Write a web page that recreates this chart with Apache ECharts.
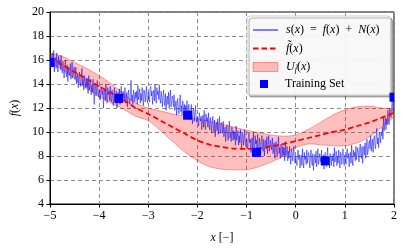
<!DOCTYPE html>
<html>
<head>
<meta charset="utf-8">
<script src="https://cdn.jsdelivr.net/npm/echarts@6/dist/echarts.min.js"></script>
<style>
html,body{margin:0;padding:0;background:#fff;}
#chart{width:415px;height:249px;}
</style>
</head>
<body>
<div id="chart"></div>
<script>
// ---- data ----
const signalStart = -5;
const signalStep = 0.0125;
const signal = [
16.2,15.7,15.4,16.4,16.6,15.8,16.8,15.0,15.9,16.2,15.3,16.6,15.5,15.0,16.3,15.6,15.9,15.2,16.4,15.3,
14.9,15.9,15.4,14.5,15.5,16.0,15.0,14.6,15.6,14.2,15.3,15.4,14.7,15.7,14.4,15.0,15.8,14.5,14.8,15.4,
15.1,14.4,15.4,14.0,14.4,14.9,13.7,14.6,15.0,14.1,13.8,14.6,15.3,13.9,14.4,13.5,14.7,14.4,13.7,14.5,
13.7,14.3,13.2,14.7,13.5,13.9,14.4,13.1,13.9,13.3,14.4,13.5,12.3,14.1,13.9,13.0,13.6,14.3,13.2,12.9,
13.5,13.0,12.7,13.8,13.9,13.1,13.5,12.0,13.3,13.6,12.6,14.0,12.9,12.4,13.7,13.1,13.4,12.6,13.8,12.7,
12.5,13.5,13.0,12.2,13.2,13.7,12.7,12.4,13.4,12.0,13.1,13.3,12.6,13.6,12.3,13.0,13.8,12.5,12.8,13.4,
13.4,12.7,13.7,12.4,12.8,13.3,12.1,13.1,13.5,12.6,12.3,13.3,14.3,12.6,13.1,12.3,13.5,13.2,12.5,13.3,
12.8,13.4,12.3,13.9,12.7,13.1,13.6,12.4,13.2,12.6,13.7,12.9,12.2,13.5,13.3,12.5,13.1,13.8,12.7,12.4,
13.3,12.8,12.5,13.6,13.8,13.0,13.4,12.3,13.2,13.5,12.6,14.0,12.9,12.4,13.7,13.1,13.4,12.7,13.9,12.8,
12.4,13.4,12.9,12.1,13.0,13.5,12.5,12.2,13.2,11.8,12.8,13.0,12.3,13.3,12.0,12.7,13.5,12.1,12.4,13.0,
12.8,12.1,13.1,11.8,12.1,12.6,11.4,12.4,12.8,11.9,11.5,12.4,13.1,11.7,12.2,11.4,12.6,12.2,11.5,12.3,
11.6,12.2,11.1,12.6,11.4,11.8,12.3,11.0,11.8,11.2,12.3,11.4,10.7,12.0,11.8,10.9,11.5,12.2,11.1,10.8,
11.3,10.8,10.5,11.6,11.7,10.9,11.3,10.2,11.1,11.4,10.4,11.8,10.7,10.2,11.5,10.9,11.2,10.4,11.6,10.5,
10.2,11.2,10.7,9.9,10.8,11.3,10.3,10.0,11.0,9.6,10.6,10.8,10.1,11.1,9.8,10.5,11.3,9.9,10.2,10.8,
10.6,9.9,10.9,9.6,9.9,10.4,9.2,10.2,10.6,9.7,9.3,10.2,10.9,9.5,10.0,9.2,10.4,10.0,9.3,10.1,
9.4,10.0,8.9,10.5,9.3,9.6,10.1,8.9,9.7,9.1,10.2,9.4,8.6,9.9,9.7,8.9,9.5,10.2,9.1,8.8,
9.4,8.9,8.6,9.7,9.9,9.1,9.4,8.3,9.2,9.5,8.6,10.0,8.9,8.4,9.7,9.0,9.3,8.6,9.8,8.7,
8.5,9.5,9.0,8.2,9.2,9.7,8.7,8.4,9.4,8.0,9.1,9.3,8.6,9.6,8.2,8.9,9.7,8.4,8.7,9.3,
9.2,8.5,9.5,8.2,8.6,9.1,7.8,8.8,9.2,8.3,8.0,8.9,9.6,8.2,8.7,7.8,9.0,8.7,8.0,8.8,
8.1,8.7,7.6,9.2,7.9,8.3,8.8,7.6,8.4,7.8,8.8,8.0,7.3,8.6,8.4,7.6,8.2,8.8,7.7,7.4,
8.0,7.5,7.2,8.3,8.5,7.7,8.1,7.0,7.8,8.1,7.2,8.6,7.5,7.0,8.3,7.7,8.0,7.3,8.5,7.4,
7.3,8.3,7.8,7.0,8.0,8.5,7.5,7.2,8.2,6.8,7.9,8.1,7.4,8.4,7.1,7.8,8.6,7.3,7.6,8.2,
8.2,7.5,8.5,7.2,7.6,8.1,6.9,7.9,8.3,7.4,7.1,8.0,8.7,7.3,7.8,7.0,8.2,7.9,7.2,8.0,
7.6,8.2,7.1,8.7,7.5,7.9,8.4,7.2,8.0,7.4,8.5,7.7,7.0,8.3,8.1,7.3,7.9,8.6,7.5,7.2,
8.1,7.6,7.3,8.4,8.6,7.8,8.2,7.1,8.0,8.3,7.4,8.9,7.7,7.2,8.5,8.0,8.3,7.6,8.8,7.7,
7.7,8.7,8.3,7.5,8.5,9.0,8.0,7.8,8.8,7.4,8.5,8.8,8.1,9.1,7.8,8.6,9.4,8.1,8.4,9.1,
9.3,8.6,9.7,8.4,8.9,9.4,8.3,9.3,9.7,8.9,8.6,9.6,10.3,9.0,9.5,8.7,10.0,9.7,9.1,9.9,
9.7,10.4,9.4,11.2,10.1,10.6,11.2,10.2,11.1,10.6,11.8,11.1,10.6,12.0,11.9,11.2,11.9,12.8,11.8,11.6,
12.9
];
const fitX = [-5,-4.75,-4.5,-4.25,-4,-3.75,-3.5,-3.25,-3,-2.75,-2.5,-2.25,-2,-1.75,-1.5,-1.25,-1,-0.75,-0.5,-0.25,0,0.25,0.5,0.75,1,1.25,1.5,1.75,2];
const fitMean = [16.2,15.6,15.0,14.4,13.8,13.25,12.65,12.0,11.5,10.95,10.4,9.85,9.3,8.95,8.75,8.62,8.6,8.65,8.8,9.0,9.25,9.5,9.75,10.0,10.2,10.5,10.8,11.2,11.6];
const bandUpper = [16.5,16.3,15.8,15.3,14.7,14.0,13.2,12.4,12.0,11.75,11.5,11.3,11.1,10.9,10.65,10.4,10.15,9.95,9.75,9.65,9.75,10.2,10.8,11.4,11.85,12.1,12.15,12.0,11.85];
const bandLower = [15.9,15.2,14.4,13.6,13.0,12.4,11.9,11.3,10.95,10.1,9.2,8.3,7.6,7.1,6.9,6.85,6.85,7.1,7.5,8.0,8.7,9.0,8.95,8.85,8.85,9.1,9.6,10.4,11.3];
const trainX = [-5,-3.6,-2.2,-0.8,0.6,2.0];
const trainY = [15.8,12.8,11.4,8.3,7.6,12.9];

// ---- build ----
const signalData = signal.map((v,i)=>[signalStart + i*signalStep, v]);
const meanData = fitX.map((x,i)=>[x, fitMean[i]]);
const bandData = fitX.map((x,i)=>[x, bandLower[i], bandUpper[i]]);
const trainData = trainX.map((x,i)=>[x, trainY[i]]);

const FONT = 'Liberation Serif';
const SP = '\u2002';
const minus = v => String(v).replace('-', '\u2212');
const labels = {
  sx: '{i|s}({i|x})' + SP + '=' + SP + '{i|f}({i|x})' + SP + '+' + SP + '{i|N}({i|x})',
  ft: '{i|f\u0303}({i|x})',
  U: '{i|U}{sub|f\u0303}({i|x})',
  train: 'Training Set'
};
const rich = {
  i: {fontFamily: FONT, fontStyle: 'italic', fontSize: 12, color: '#000'},
  sub: {fontFamily: FONT, fontStyle: 'italic', fontSize: 8, color: '#000', verticalAlign: 'bottom', padding: [6,0,0,0]}
};
const BAND_FILL = 'rgba(255,0,0,0.25)';
const BAND_EDGE = 'rgba(255,0,0,0.35)';

const chart = echarts.init(document.getElementById('chart'), null, {renderer: 'canvas'});
chart.setOption({
  animation: false,
  backgroundColor: '#fff',
  grid: {left: 50, right: 21, top: 12, bottom: 37, show: true, borderColor: '#000', borderWidth: 1, backgroundColor: 'transparent'},
  xAxis: {
    type: 'value', min: -5, max: 2, interval: 1,
    axisLine: {show: true, onZero: false, lineStyle: {color: '#000', width: 1}},
    axisTick: {show: true, length: 3.5, lineStyle: {color: '#000'}},
    axisLabel: {fontFamily: FONT, fontSize: 12, color: '#000', margin: 6, formatter: minus},
    splitLine: {show: true, lineStyle: {color: '#8c8c8c', type: [4,3], width: 1}},
    name: '{i|x} [\u2212]', nameLocation: 'middle', nameGap: 28,
    nameTextStyle: {fontFamily: FONT, fontSize: 12, color: '#000', rich: rich}
  },
  yAxis: {
    type: 'value', min: 4, max: 20, interval: 2,
    axisLine: {show: true, onZero: false, lineStyle: {color: '#000', width: 1}},
    axisTick: {show: true, length: 3.5, lineStyle: {color: '#000'}},
    axisLabel: {fontFamily: FONT, fontSize: 12, color: '#000', margin: 6, formatter: minus},
    splitLine: {show: true, lineStyle: {color: '#8c8c8c', type: [4,3], width: 1}},
    name: '{i|f}({i|x})', nameLocation: 'middle', nameGap: 19, nameRotate: 90,
    nameTextStyle: {fontFamily: FONT, fontSize: 12, color: '#000', rich: rich}
  },
  legend: [{
    data: [
      {name: 'sx', itemStyle: {opacity: 0}},
      {name: 'ft', itemStyle: {opacity: 0}},
      {name: 'U', icon: 'rect', itemStyle: {color: BAND_FILL, borderColor: BAND_EDGE, borderWidth: 1}}
    ],
    orient: 'vertical', left: 247, top: 16,
    padding: [8, 11, 21, 5],
    itemWidth: 25, itemHeight: 9, itemGap: 6.5,
    backgroundColor: 'rgba(255,255,255,0.9)', borderColor: '#cccccc', borderWidth: 1, borderRadius: 3,
    shadowColor: 'rgba(0,0,0,0.3)', shadowOffsetX: 2, shadowOffsetY: 2, shadowBlur: 0,
    selectedMode: false,
    formatter: n => labels[n],
    textStyle: {fontFamily: FONT, fontSize: 12, color: '#000', padding: [0,0,0,3], rich: rich}
  }, {
    data: [{name: 'train', icon: 'rect'}],
    orient: 'vertical', left: 260, top: 78, padding: 0,
    itemWidth: 8, itemHeight: 8,
    selectedMode: false,
    formatter: n => labels[n],
    textStyle: {fontFamily: FONT, fontSize: 12, color: '#000', padding: [0,0,0,12], rich: rich}
  }],
  series: [
    {name: 'U', type: 'custom', clip: true, z: 1, data: bandData,
     itemStyle: {color: BAND_FILL},
     renderItem: (params, api) => {
       if (params.dataIndex !== 0) return null;
       const pts = [];
       for (let i = 0; i < fitX.length; i++) pts.push(api.coord([fitX[i], bandUpper[i]]));
       for (let i = fitX.length - 1; i >= 0; i--) pts.push(api.coord([fitX[i], bandLower[i]]));
       return {type: 'polygon', shape: {points: pts, smooth: 0.25},
               style: {fill: BAND_FILL, stroke: BAND_EDGE, lineWidth: 1}};
     }},
    {name: 'sx', type: 'line', data: signalData, symbol: 'none', z: 2, sampling: null,
     itemStyle: {color: 'rgba(0,0,255,0.5)'},
     lineStyle: {color: 'rgba(0,0,255,0.5)', width: 1}},
    {name: 'ft', type: 'line', data: meanData, symbol: 'none', smooth: 0.3, z: 3,
     itemStyle: {color: '#ff0000'},
     lineStyle: {color: '#ff0000', width: 1.8, type: [5.5, 3]}},
    {name: 'train', type: 'custom', clip: true, z: 4, data: trainData,
     itemStyle: {color: '#0000ff'},
     renderItem: (params, api) => {
       const p = api.coord([api.value(0), api.value(1)]);
       return {type: 'rect', shape: {x: p[0]-4.5, y: p[1]-4.5, width: 9, height: 9}, style: {fill: '#0000ff'}};
     }}
  ]
});
</script>
</body>
</html>
